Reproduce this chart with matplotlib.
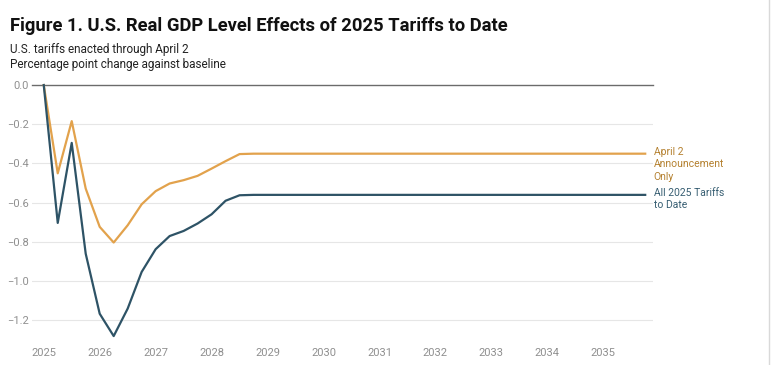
import matplotlib.pyplot as plt
import numpy as np

plt.rcParams['font.family'] = ['Roboto', 'DejaVu Sans']

# quarterly, starting 2025 Q1
quarters = [2025 + 0.25 * i for i in range(44)]
april2_only = [0.0, -0.45, -0.184, -0.528, -0.723, -0.803, -0.715, -0.608,
               -0.541, -0.502, -0.485, -0.463, -0.426, -0.388, -0.352, -0.35,
               -0.35, -0.35, -0.35, -0.35, -0.35, -0.35, -0.35, -0.35,
               -0.35, -0.35, -0.35, -0.35, -0.35, -0.35, -0.35, -0.35,
               -0.35, -0.35, -0.35, -0.35, -0.35, -0.35, -0.35, -0.35,
               -0.35, -0.35, -0.35, -0.35]
all_tariffs = [0.0, -0.703, -0.295, -0.86, -1.166, -1.28, -1.14, -0.953,
               -0.837, -0.77, -0.744, -0.706, -0.659, -0.59, -0.562, -0.56,
               -0.56, -0.56, -0.56, -0.56, -0.56, -0.56, -0.56, -0.56,
               -0.56, -0.56, -0.56, -0.56, -0.56, -0.56, -0.56, -0.56,
               -0.56, -0.56, -0.56, -0.56, -0.56, -0.56, -0.56, -0.56,
               -0.56, -0.56, -0.56, -0.56]
year_ticks = list(range(2025, 2036))
y_ticks = [0.0, -0.2, -0.4, -0.6, -0.8, -1.0, -1.2]

ORANGE = '#E2A24C'
BLUE = '#2E5366'

fig = plt.figure(figsize=(7.71, 3.65), dpi=100)
ax = fig.add_axes([0.0415, 0.0685, 0.8055, 0.6985])

for y in y_ticks[1:]:
    ax.axhline(y, color='#e6e6e6', lw=0.8, zorder=0)
ax.axhline(0, color='#6b6b6b', lw=1.0, zorder=1, clip_on=False)

ax.plot(quarters, april2_only, color=ORANGE, lw=1.6, zorder=3, clip_on=False)
ax.plot(quarters, all_tariffs, color=BLUE, lw=1.6, zorder=3, clip_on=False)

ax.set_xlim(2024.79, 2035.89)
ax.set_ylim(-1.3, 0.0)
ax.set_xticks(year_ticks)
ax.set_yticks(y_ticks)
ax.set_yticklabels(['0.0' if v == 0 else f'\u2212{abs(v):.1f}' for v in y_ticks])
ax.tick_params(length=0, labelsize=8, colors='#8f8f8f', pad=6)
ax.tick_params(axis='y', pad=2)
for s in ax.spines.values():
    s.set_visible(False)

ax.text(2035.9, april2_only[-1] + 0.035, 'April 2\nAnnouncement\nOnly', color='#B4802F',
        fontsize=7.5, va='top', ha='left', linespacing=1.3, clip_on=False)
ax.text(2035.9, all_tariffs[-1] + 0.035, 'All 2025 Tariffs\nto Date', color='#375E72',
        fontsize=7.5, va='top', ha='left', linespacing=1.3, clip_on=False)

fig.text(10 / 771, 1 - 31 / 365, 'Figure 1. U.S. Real GDP Level Effects of 2025 Tariffs to Date',
         fontsize=13.2, fontweight='bold', color='#111111', va='baseline')
fig.text(10 / 771, 1 - 53 / 365, 'U.S. tariffs enacted through April 2', fontsize=8.5,
         color='#222222', va='baseline')
fig.text(10 / 771, 1 - 68 / 365, 'Percentage point change against baseline', fontsize=8.5,
         color='#222222', va='baseline')

fig.add_artist(plt.Line2D([769 / 771, 769 / 771], [0, 1], color='#d9d9d9', lw=1))

fig.savefig('out.png', dpi=100)
